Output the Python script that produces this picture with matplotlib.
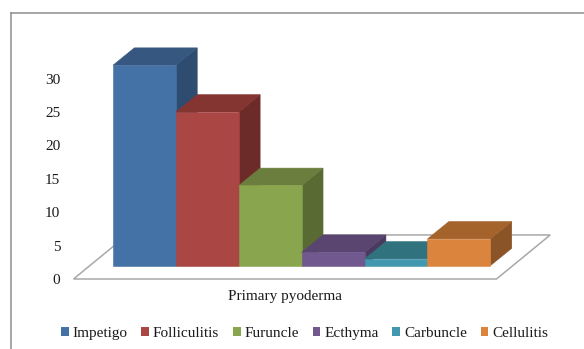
import matplotlib
matplotlib.use("Agg")
import matplotlib.pyplot as plt
from matplotlib.lines import Line2D
from matplotlib.patches import Patch

categories = ["Impetigo", "Folliculitis", "Furuncle", "Ecthyma", "Carbuncle", "Cellulitis"]
values = [30, 23, 12, 2, 1, 4]
group_label = "Primary pyoderma"
y_ticks = [0, 5, 10, 15, 20, 25, 30]

front_colors = ["#4472a6", "#aa4643", "#89a54e", "#71588f", "#4198af", "#db843d"]
top_colors = ["#36577f", "#843532", "#6b7e3d", "#59456f", "#31727f", "#a5632c"]
side_colors = ["#2e4c70", "#6c2b28", "#5a6a33", "#4b3a5f", "#2b6270", "#8b5427"]

W, H = 584, 349
SERIF = "Liberation Serif"
TEXT_SIZE = 11

# Oblique projection, in axis units: one x unit is one bar width, y is the value scale
FLOOR_LEFT, FLOOR_RIGHT = -0.628, 6.097
FLOOR_DX, FLOOR_DY = 0.854, 6.59
BAR_DX, BAR_DY = 0.339, 2.6
BAR_BASE = 2.0

fig = plt.figure(figsize=(W / 100, H / 100), dpi=100, facecolor="white")
ax = fig.add_axes([73.5 / W, (H - 279) / H, 423 / W, 200.4 / H])
ax.set_xlim(FLOOR_LEFT, FLOOR_RIGHT)
ax.set_ylim(0, 30)
ax.patch.set_alpha(0)
for spine in ax.spines.values():
    spine.set_visible(False)

# Outer chart border, running off the top-right and bottom-left
frame_color = "#8e8e8e"
fig.add_artist(Line2D([10.5 / W, 1], [1 - 12.5 / H] * 2, color=frame_color, lw=1.1, transform=fig.transFigure))
fig.add_artist(Line2D([10.5 / W] * 2, [0, 1 - 12.5 / H], color=frame_color, lw=1.1, transform=fig.transFigure))

# Floor of the 3-D plot
ax.fill(
    [FLOOR_LEFT, FLOOR_RIGHT, FLOOR_RIGHT + FLOOR_DX, FLOOR_LEFT + FLOOR_DX],
    [0, 0, FLOOR_DY, FLOOR_DY],
    facecolor="white", edgecolor="#a8a8a8", lw=1.1, clip_on=False, zorder=1,
)

# Bars, left to right so each front face covers its neighbour's side face
for i, v in enumerate(values):
    x0, x1 = i, i + 1
    y0, y1 = BAR_BASE, BAR_BASE + v
    z = 2 + i
    ax.fill([x1, x1 + BAR_DX, x1 + BAR_DX, x1], [y0, y0 + BAR_DY, y1 + BAR_DY, y1],
            facecolor=side_colors[i], edgecolor=side_colors[i], lw=0.4, clip_on=False, zorder=z)
    ax.fill([x0, x1, x1 + BAR_DX, x0 + BAR_DX], [y1, y1, y1 + BAR_DY, y1 + BAR_DY],
            facecolor=top_colors[i], edgecolor=top_colors[i], lw=0.4, clip_on=False, zorder=z)
    ax.fill([x0, x1, x1, x0], [y0, y0, y1, y1],
            facecolor=front_colors[i], edgecolor=front_colors[i], lw=0.4, clip_on=False, zorder=z)

ax.set_yticks(y_ticks)
ax.set_yticklabels([str(t) for t in y_ticks], family=SERIF, fontsize=TEXT_SIZE, color="#1a1a1a")
ax.set_xticks([2.73])
ax.set_xticklabels([group_label], family=SERIF, fontsize=TEXT_SIZE, color="#1a1a1a")
ax.tick_params(axis="y", length=0, pad=9.5)
ax.tick_params(axis="x", length=0, pad=8)

handles = [Patch(facecolor=c, edgecolor="none") for c in front_colors]
fig.legend(
    handles, categories, ncol=6, loc="center", bbox_to_anchor=(304.5 / W, 1 - 333.5 / H),
    frameon=False, prop={"family": SERIF, "size": TEXT_SIZE}, labelcolor="#1a1a1a",
    handlelength=0.5, handleheight=0.55, handletextpad=0.25, columnspacing=0.91,
    borderpad=0, borderaxespad=0,
)

fig.savefig("out.png", dpi=100, facecolor="white")
